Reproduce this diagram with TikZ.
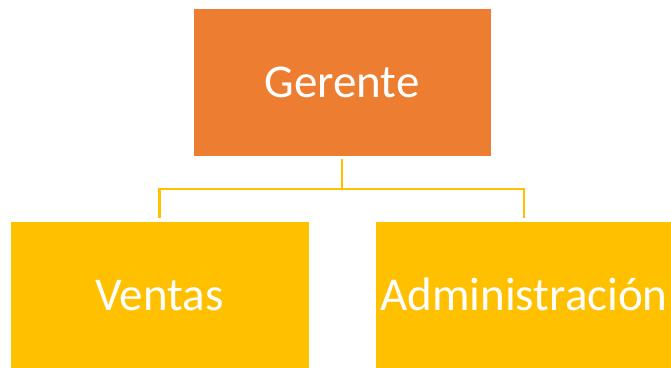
\documentclass[tikz,border=0pt]{standalone}
\usepackage{fontspec}
\setmainfont{Carlito}
\definecolor{orangebox}{HTML}{ED7D31}
\definecolor{yellowbox}{HTML}{FFC000}
\tikzset{
  box/.style={rectangle, draw=white, line width=0.6pt, text=white,
    font=\fontsize{47}{52}\selectfont, text height=30pt, text depth=0pt, inner sep=0pt},
  link/.style={draw=yellowbox, line width=2.2pt}
}
\begin{document}
\begin{tikzpicture}[x=1pt,y=-1pt]
\useasboundingbox (0,0) rectangle (671,367);
\begin{scope}
\clip (0,0) rectangle (671,367);
\node[box, fill=orangebox, minimum width=298pt, minimum height=148pt] (top) at (342,82) {Gerente};
\node[box, fill=yellowbox, minimum width=299pt, minimum height=148pt] (left) at (159.5,295) {Ventas};
\node[box, fill=yellowbox, minimum width=298pt, minimum height=148pt] (right) at (524,295) {Administración};
\end{scope}
\coordinate (bus) at (342,189);
\draw[link] ([yshift=-3pt]top.south) -- (bus);
\draw[link] (bus) -| ([yshift=3pt]left.north);
\draw[link] (bus) -| ([yshift=3pt]right.north);
\end{tikzpicture}
\end{document}
